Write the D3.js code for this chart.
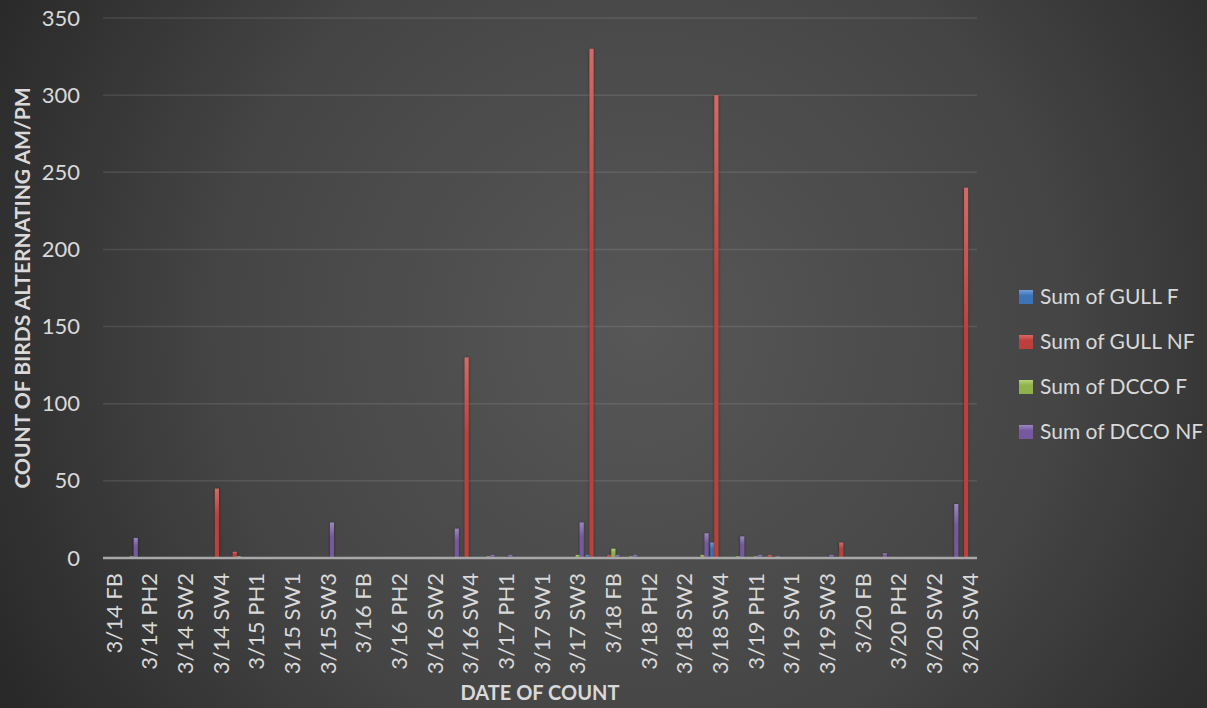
<!DOCTYPE html>
<meta charset="utf-8">
<head>
<script src="https://cdn.jsdelivr.net/npm/d3@7/dist/d3.min.js"></script>
<style>
  body { margin: 0; background: #333; }
  text { font-family: Lato, "Open Sans", sans-serif; fill: #d9d9d9; }
  .ttl { font-weight: bold; font-size: 20px; }
</style>
</head>
<body>
<div id="chart"></div>
<script>
// categories: 7 days x 7 sites, Excel only labels every other one
var categories = [
  "3/14 FB","3/14 PH1","3/14 PH2","3/14 SW1","3/14 SW2","3/14 SW3","3/14 SW4",
  "3/15 FB","3/15 PH1","3/15 PH2","3/15 SW1","3/15 SW2","3/15 SW3","3/15 SW4",
  "3/16 FB","3/16 PH1","3/16 PH2","3/16 SW1","3/16 SW2","3/16 SW3","3/16 SW4",
  "3/17 FB","3/17 PH1","3/17 PH2","3/17 SW1","3/17 SW2","3/17 SW3","3/17 SW4",
  "3/18 FB","3/18 PH1","3/18 PH2","3/18 SW1","3/18 SW2","3/18 SW3","3/18 SW4",
  "3/19 FB","3/19 PH1","3/19 PH2","3/19 SW1","3/19 SW2","3/19 SW3","3/19 SW4",
  "3/20 FB","3/20 PH1","3/20 PH2","3/20 SW1","3/20 SW2","3/20 SW3","3/20 SW4"
];
var gullF = [
  0,0,0,0,0,0,0,  0,0,0,0,0,0,0,  0,0,0,0,0,0,0,  0,0,0,0,0,0,2,
  0,0,0,0,0,0,10, 0,0,0,0,0,0,0,  0,0,0,0,0,0,0
];
var gullNF = [
  0,0,0,0,0,0,45, 4,0,0,0,0,0,0,  0,0,0,0,0,0,130, 0,0,0,0,0,0,330,
  2,0,0,0,0,0,300, 0,0,2,0,0,0,10, 0,0,0,0,0,0,240
];
var dccoF = [
  0,1,0,0,0,0,0,  1,0,0,0,0,0,0,  0,0,0,0,0,0,0,  1,0,0,0,0,2,0,
  6,1,0,0,0,2,0,  1,1,0,0,0,0,0,  0,0,0,0,0,0,0
];
var dccoNF = [
  0,13,0,0,0,0,0, 0,0,0,0,0,23,0, 0,0,0,0,0,19,0, 2,2,0,0,0,23,0,
  2,2,0,0,0,16,0, 14,2,1,0,0,2,0, 0,3,0,0,0,35,0
];
var seriesNames = ["Sum of GULL F", "Sum of GULL NF", "Sum of DCCO F", "Sum of DCCO NF"];
var seriesValues = [gullF, gullNF, dccoF, dccoNF];
var seriesColors = [["#6f9fd8", "#3d73b8"], ["#d66a66", "#bd3f3b"], ["#b5d276", "#8fb24a"], ["#9c86c0", "#7658a0"]];
var yTicks = [0, 50, 100, 150, 200, 250, 300, 350];

var W = 1207, H = 708;
var mLeft = 103, mTop = 18, width = 977 - 103, height = 558 - 18;

var svg = d3.select("#chart").append("svg")
    .attr("width", W).attr("height", H);

var defs = svg.append("defs");
var bg = defs.append("radialGradient").attr("id", "bg")
    .attr("gradientUnits", "userSpaceOnUse")
    .attr("cx", 640).attr("cy", 330).attr("r", 760);
bg.append("stop").attr("offset", "0").attr("stop-color", "#575757");
bg.append("stop").attr("offset", "0.55").attr("stop-color", "#454545");
bg.append("stop").attr("offset", "1").attr("stop-color", "#262626");

seriesColors.forEach(function(c, i) {
  var gr = defs.append("linearGradient").attr("id", "s" + i)
      .attr("x1", 0).attr("y1", 0).attr("x2", 0).attr("y2", 1);
  gr.append("stop").attr("offset", "0").attr("stop-color", c[0]);
  gr.append("stop").attr("offset", "0.4").attr("stop-color", c[1]);
  gr.append("stop").attr("offset", "1").attr("stop-color", c[1]);
});
defs.append("filter").attr("id", "sh").attr("x", "-100%").attr("width", "300%")
  .append("feDropShadow").attr("dx", 0).attr("dy", 0)
  .attr("stdDeviation", 1.5).attr("flood-color", "#000").attr("flood-opacity", 0.45);

svg.append("rect").attr("width", W).attr("height", H).attr("fill", "url(#bg)");

var g = svg.append("g").attr("transform", "translate(" + mLeft + "," + mTop + ")");

var x0 = d3.scaleBand().domain(categories).range([0, width])
    .paddingInner(0.1).paddingOuter(0.05);
var x1 = d3.scaleBand().domain(d3.range(seriesNames.length)).range([0, x0.bandwidth()]);
var y = d3.scaleLinear().domain([0, 350]).range([height, 0]);

// gridlines
g.append("g").selectAll("line")
  .data(yTicks.filter(function(d) { return d > 0; }))
  .enter().append("line")
    .attr("x1", 0).attr("x2", width)
    .attr("y1", y).attr("y2", y)
    .attr("stroke", "rgba(255,255,255,0.1)").attr("stroke-width", 1.5);

// y axis
var ya = g.append("g").call(d3.axisLeft(y).tickValues(yTicks).tickSize(0).tickPadding(23));
ya.select(".domain").remove();
ya.selectAll("text").style("font-size", "22px").attr("fill", "#d9d9d9")
  .style("font-family", "Lato, sans-serif");

// bars
var rows = categories.map(function(c, i) {
  return { cat: c, vals: seriesValues.map(function(s) { return s[i]; }) };
});
var grp = g.append("g").selectAll("g").data(rows).enter().append("g")
    .attr("transform", function(d) { return "translate(" + x0(d.cat) + ",0)"; });
grp.selectAll("rect")
  .data(function(d) { return d.vals.map(function(v, k) { return { k: k, v: v }; }); })
  .enter().filter(function(d) { return d.v > 0; }).append("rect")
    .attr("x", function(d) { return x1(d.k); })
    .attr("width", x1.bandwidth())
    .attr("y", function(d) { return y(d.v); })
    .attr("height", function(d) { return height - y(d.v); })
    .attr("fill", function(d) { return "url(#s" + d.k + ")"; })
    .attr("filter", "url(#sh)");

// baseline
g.append("line").attr("x1", 0).attr("x2", width).attr("y1", height).attr("y2", height)
  .attr("stroke", "#a8a8a8").attr("stroke-width", 2.5);

// x axis, labels on every other category
var xa = g.append("g").attr("transform", "translate(0," + height + ")")
  .call(d3.axisBottom(x0).tickValues(categories.filter(function(d, i) { return i % 2 === 0; })).tickSize(0));
xa.select(".domain").remove();
xa.selectAll("text")
  .style("font-size", "22px").style("font-family", "Lato, sans-serif").attr("fill", "#d9d9d9")
  .attr("transform", "rotate(-90)")
  .attr("x", -15).attr("y", 2).attr("dy", "0.35em")
  .style("text-anchor", "end");

// titles
svg.append("text").attr("class", "ttl")
  .attr("x", mLeft + width / 2).attr("y", 700)
  .attr("text-anchor", "middle").text("DATE OF COUNT");
svg.append("text").attr("class", "ttl").style("font-size", "21px")
  .attr("transform", "translate(30," + (mTop + height / 2) + ") rotate(-90)")
  .attr("text-anchor", "middle").text("COUNT OF BIRDS ALTERNATING AM/PM");

// legend
var lg = svg.append("g").attr("transform", "translate(1019,297)");
var li = lg.selectAll("g").data(seriesNames).enter().append("g")
    .attr("transform", function(d, i) { return "translate(0," + i * 45 + ")"; });
li.append("rect").attr("x", 0).attr("y", -7).attr("width", 14).attr("height", 14)
  .attr("fill", function(d, i) { return "url(#s" + i + ")"; });
li.append("text").attr("x", 21).attr("dy", "0.35em").style("font-size", "21px")
  .text(function(d) { return d; });
</script>
</body>
